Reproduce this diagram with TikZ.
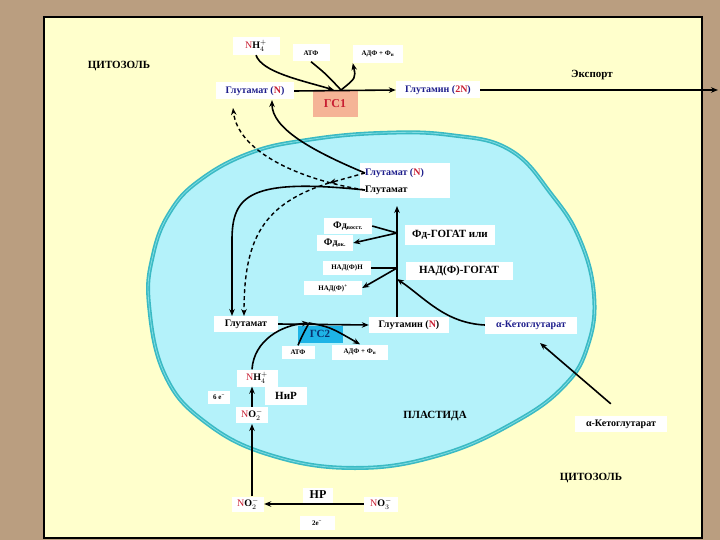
\documentclass[tikz,border=0pt]{standalone}
\usepackage{fontspec}
\setmainfont{Liberation Serif}
\usetikzlibrary{arrows.meta}
\definecolor{bgbrown}{RGB}{186,158,128}
\definecolor{panel}{RGB}{255,255,204}
\definecolor{cellfill}{RGB}{180,242,250}
\definecolor{cellline}{RGB}{58,186,196}
\definecolor{cellline2}{RGB}{130,220,225}
\definecolor{gsone}{RGB}{245,180,150}
\definecolor{gstwo}{RGB}{30,180,230}
\definecolor{nblue}{RGB}{30,30,140}
\definecolor{nred}{RGB}{200,30,50}
\definecolor{gsdark}{RGB}{10,50,110}
\newcommand{\fsz}[1]{\fontsize{#1}{#1}\selectfont}
\newcommand{\ssp}[2]{$_{#1}^{#2}$}
\begin{document}
\begin{tikzpicture}[x=1pt,y=-1pt,
  box/.style={fill=white, inner sep=0pt, align=center},
  arr/.style={line width=1.6pt, -{Stealth[length=7pt,width=5.5pt]}},
  ln/.style={line width=1.6pt},
  dsh/.style={line width=1.4pt, dash pattern=on 4pt off 3pt, -{Stealth[length=7pt,width=5.5pt]}},
  big/.style={font=\fsz{11}\bfseries},
  mid/.style={font=\fsz{10}\bfseries},
  sml/.style={font=\fsz{7}\bfseries}]
\useasboundingbox (0,0) rectangle (720,540);
% background
\fill[bgbrown] (0,0) rectangle (720,540);
\draw[line width=2pt, fill=panel] (44,17) rectangle (702,538);
% plastid
\draw[line width=4pt, draw=cellline, fill=cellfill] plot[smooth cycle, tension=0.7] coordinates {
 (149,305) (153,255) (170,212) (200,180) (250,153) (307,140) (380,133) (450,135)
 (510,150) (552,195) (580,240) (594,295) (588,345) (565,385) (515,422) (440,455)
 (355,468) (270,455) (205,422) (165,375)};
\draw[line width=0.8pt, draw=cellline2] plot[smooth cycle, tension=0.7] coordinates {
 (149,305) (153,255) (170,212) (200,180) (250,153) (307,140) (380,133) (450,135)
 (510,150) (552,195) (580,240) (594,295) (588,345) (565,385) (515,422) (440,455)
 (355,468) (270,455) (205,422) (165,375)};

% ---- cytosol top ----
\node[big] (cyt1) at (119,66) {ЦИТОЗОЛЬ};
\node[big] (exp) at (592,75) {Экспорт};
\node[box, minimum width=47, minimum height=18, mid] (nh4a) at (256,46) {\textcolor{nred}{\mdseries N}H\ssp{4}{+}};
\node[box, minimum width=37, minimum height=17, sml] (atpa) at (311,53) {АТФ};
\node[box, minimum width=50, minimum height=18, sml] (adpa) at (378,54) {АДФ + Ф\textsubscript{н}};
\node[box, minimum width=78, minimum height=17, mid] (glua) at (255,91) {\textcolor{nblue}{Глутамат (}\textcolor{nred}{N}\textcolor{nblue}{)}};
\node[fill=gsone, minimum width=45, minimum height=27, inner sep=0pt, font=\fsz{12}\bfseries, text=nred] (gs1) at (335,104) {ГС1};
\node[box, minimum width=84, minimum height=17, mid] (gln2) at (438,90) {\textcolor{nblue}{Глутамин (}\textcolor{nred}{2N}\textcolor{nblue}{)}};
\coordinate (j1) at (341,90);
\coordinate (expend) at (718,90);

% ---- plastid ----
\fill[white] (360,163) rectangle (450,198);
\node[mid, anchor=west, inner sep=0pt] (glub) at (365,173) {\textcolor{nblue}{Глутамат (}\textcolor{nred}{N}\textcolor{nblue}{)}};
\node[mid, anchor=west, inner sep=0pt] (gluc) at (365,190) {Глутамат};
\node[box, minimum width=48, minimum height=16, mid] (fdr) at (348,226) {Фд\textsubscript{\fsz{6}восст.}};
\node[box, minimum width=36, minimum height=16, mid] (fdo) at (335,243) {Фд\textsubscript{\fsz{6}ок.}};
\node[box, minimum width=90, minimum height=20, big] (fdg) at (450,235) {Фд-ГОГАТ или};
\node[box, minimum width=48, minimum height=14, sml] (nadh) at (347,268) {НАД(Ф)Н};
\node[box, minimum width=107, minimum height=18, big] (nadg) at (459,271) {НАД(Ф)-ГОГАТ};
\node[box, minimum width=58, minimum height=14, sml] (nadp) at (333,288) {НАД(Ф)\textsuperscript{+}};
\node[box, minimum width=64, minimum height=16, mid] (glud) at (246,324) {Глутамат};
\node[box, minimum width=80, minimum height=16, mid] (glnn) at (409,325) {Глутамин (\textcolor{nred}{N})};
\node[box, minimum width=92, minimum height=17, mid, text=nblue] (akg1) at (531,325) {α-Кетоглутарат};
\node[fill=gstwo, minimum width=45, minimum height=17, inner sep=0pt, font=\fsz{11}\bfseries, text=gsdark] (gs2) at (320,334) {ГС2};
\node[box, minimum width=33, minimum height=13, sml] (atpb) at (298,352) {АТФ};
\node[box, minimum width=56, minimum height=15, sml] (adpb) at (360,352) {АДФ + Ф\textsubscript{н}};
\node[box, minimum width=41, minimum height=17, mid] (nh4b) at (257,378) {\textcolor{nred}{\mdseries N}H\ssp{4}{+}};
\node[box, minimum width=22, minimum height=13, sml] (e6) at (219,397) {6 е\textsuperscript{−}};
\node[box, minimum width=42, minimum height=18, big] (nir) at (286,396) {НиР};
\node[box, minimum width=32, minimum height=16, mid] (no2b) at (252,415) {\textcolor{nred}{\mdseries N}O\ssp{2}{-}};
\node[big] (plast) at (435,416) {ПЛАСТИДА};
\coordinate (j2) at (309,323);

% ---- cytosol bottom ----
\node[box, minimum width=92, minimum height=16, mid] (akg2) at (621,424) {α-Кетоглутарат};
\node[big] (cyt2) at (591,478) {ЦИТОЗОЛЬ};
\node[box, minimum width=32, minimum height=15, mid] (no2c) at (248,504) {\textcolor{nred}{\mdseries N}O\ssp{2}{-}};
\node[box, minimum width=30, minimum height=15, font=\fsz{12}\bfseries] (nr) at (318,495) {НР};
\node[box, minimum width=34, minimum height=15, mid] (no3) at (381,504) {\textcolor{nred}{\mdseries N}O\ssp{3}{-}};
\node[box, minimum width=35, minimum height=14, sml] (e2) at (317,523) {2е\textsuperscript{−}};

% ---- connectors top ----
\draw[arr] (glua.east) -- (gln2.west);
\draw[arr] (nh4a.south) .. controls (262,72) and (300,80) .. (334,90);
\draw[ln] (atpa.south) .. controls (326,74) .. (j1);
\draw[arr] (j1) .. controls (356,78) .. (adpa.south west);
\draw[arr] (gln2.east) -- (expend);
% glutamate export from plastid
\draw[arr] (glub.west) .. controls (310,150) and (272,128) .. (272,100);
\draw[dsh] (gluc.west) .. controls (300,180) and (238,152) .. (233,108);
\coordinate (dmid) at (329,183);
\draw[dsh] (glub.west) -- (dmid);
\draw[dsh] (dmid) .. controls (262,204) and (244,240) .. (244,316);
\draw[arr] (gluc.west) .. controls (250,178) and (232,195) .. (232,240) -- (232,316);
% GOGAT
\coordinate (ax1) at (397,233);
\coordinate (ax2) at (397,268);
\coordinate (ax3) at (397,279);
\draw[arr] (glnn.north -| ax1) -- (397,206);
\draw[ln] (fdr.east) -- (ax1);
\draw[arr] (ax1) -- (fdo.east);
\draw[ln] (nadh.east) -- (ax2);
\draw[arr] (ax2) -- (nadp.east);
\draw[arr] (akg1.west) .. controls (445,323) and (425,298) .. (ax3);
% GS2
\draw[arr] (glud.east) -- (glnn.west);
\draw[arr] (nh4b.north -| 252,370) .. controls (254,340) and (282,325) .. (j2);
\draw[ln] (atpb.north) .. controls (302,336) .. (j2);
\draw[arr] (j2) .. controls (330,327) .. (adpb.north);
\draw[arr] (no2b.north) -- (nh4b.south -| no2b.north);
\draw[arr] (no2c.north -| 252,497) -- (252,424);
\draw[arr] (no3.west) -- (no2c.east);
\draw[arr] (akg2.north west) ++(36,-12) coordinate (akgs) (akgs) -- (540,343);
\end{tikzpicture}
\end{document}
